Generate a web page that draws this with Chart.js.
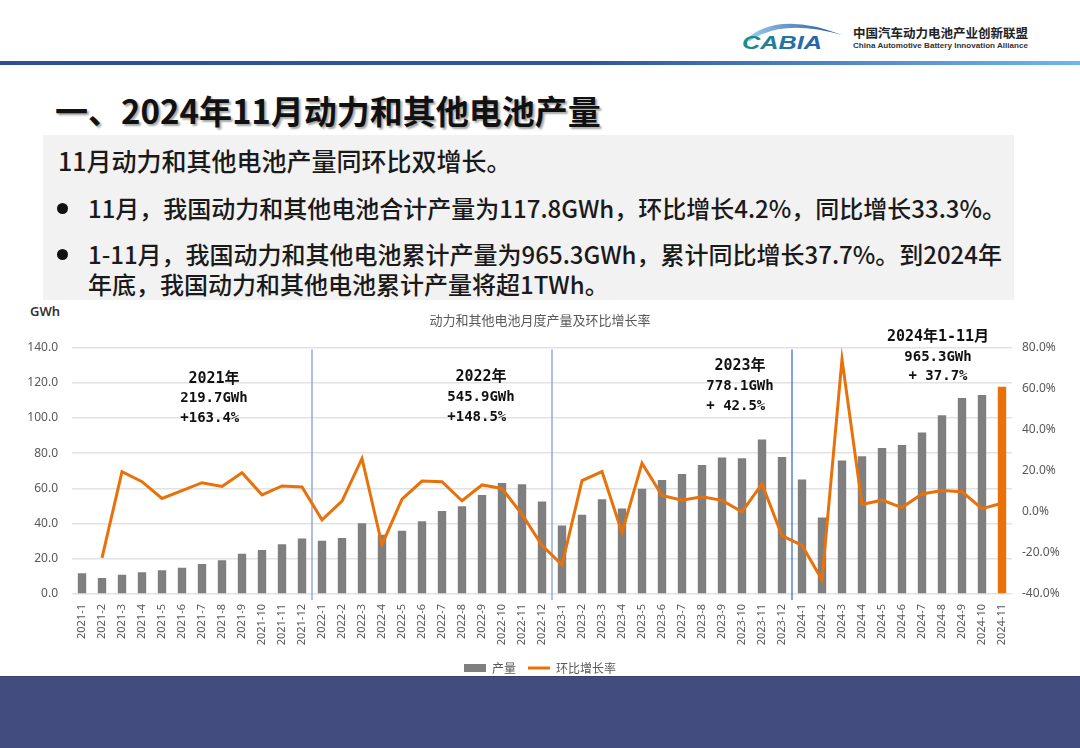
<!DOCTYPE html>
<html><head><meta charset="utf-8">
<script src="https://cdn.jsdelivr.net/npm/chart.js@4.4.0/dist/chart.umd.min.js"></script>
<style>
html,body{margin:0;padding:0;background:#fff;}
body{width:1080px;height:748px;position:relative;overflow:hidden;font-family:"Noto Sans CJK SC","Noto Sans",sans-serif;}
.abs{position:absolute;}
#rule{left:0;top:61px;width:1080px;height:4px;background:linear-gradient(90deg,#2c4f96 0%,#2f57a0 55%,#6fb5f3 100%);}
#title{left:55px;top:88px;font-size:33px;font-weight:bold;color:#111;text-shadow:2px 2px 2px rgba(0,0,0,0.35);white-space:nowrap;line-height:44px;}
#box{left:43px;top:135px;width:971px;height:165px;background:#f2f2f2;}
.t{position:absolute;font-size:24px;color:#1a1a1a;white-space:nowrap;line-height:30px;font-weight:500;}
.dot{position:absolute;width:11px;height:11px;border-radius:50%;background:#111;}
#band{left:0;top:676px;width:1080px;height:72px;background:#424c7f;border-top:1px solid #37406e;}
#gwh{left:30px;top:302px;font:600 13px "Noto Sans",sans-serif;color:#333;}
#chartWrap{left:0;top:300px;width:1080px;height:384px;}
</style></head>
<body>
<svg class="abs" style="left:730px;top:10px" width="340" height="50">
 <defs>
  <linearGradient id="arcg" x1="0" x2="1"><stop offset="0" stop-color="#9fd0f0"/><stop offset="1" stop-color="#1f4f9e"/></linearGradient>
  <linearGradient id="txtg" x1="0" x2="1"><stop offset="0" stop-color="#1a9088"/><stop offset="1" stop-color="#2a5fb0"/></linearGradient>
 </defs>
 <path d="M15 30 Q 48 0 112 25 Q 52 8 20 31 Z" fill="url(#arcg)"/>
 <text x="12" y="39" font-family="Liberation Sans" font-weight="bold" font-style="italic" font-size="19" textLength="80" lengthAdjust="spacingAndGlyphs" fill="url(#txtg)">CABIA</text>
 <text x="123" y="28" font-family="Noto Sans CJK SC" font-weight="bold" font-size="12.5" textLength="175" lengthAdjust="spacingAndGlyphs" fill="#222">中国汽车动力电池产业创新联盟</text>
 <text x="123" y="38" font-family="Liberation Sans" font-weight="bold" font-size="7.6" textLength="175" lengthAdjust="spacingAndGlyphs" fill="#333">China Automotive Battery Innovation Alliance</text>
</svg>
<div id="rule" class="abs"></div>
<div id="title" class="abs">一、2024年11月动力和其他电池产量</div>
<div id="box" class="abs"></div>
<div class="t" style="left:58px;top:145px;font-size:25px;">11月动力和其他电池产量同环比双增长。</div>
<div class="dot" style="left:57px;top:203px;"></div>
<div class="t" style="left:88px;top:193px;">11月，我国动力和其他电池合计产量为117.8GWh，环比增长4.2%，同比增长33.3%。</div>
<div class="dot" style="left:57px;top:249px;"></div>
<div class="t" style="left:88px;top:239px;">1-11月，我国动力和其他电池累计产量为965.3GWh，累计同比增长37.7%。到2024年</div>
<div class="t" style="left:88px;top:269px;">年底，我国动力和其他电池累计产量将超1TWh。</div>
<div id="gwh" class="abs">GWh</div>
<div id="chartWrap" class="abs"><canvas id="c" width="1080" height="384"></canvas></div>
<div id="band" class="abs"></div>
<script>
const months = [
 '2021-1','2021-2','2021-3','2021-4','2021-5','2021-6','2021-7','2021-8','2021-9','2021-10','2021-11','2021-12',
 '2022-1','2022-2','2022-3','2022-4','2022-5','2022-6','2022-7','2022-8','2022-9','2022-10','2022-11','2022-12',
 '2023-1','2023-2','2023-3','2023-4','2023-5','2023-6','2023-7','2023-8','2023-9','2023-10','2023-11','2023-12',
 '2024-1','2024-2','2024-3','2024-4','2024-5','2024-6','2024-7','2024-8','2024-9','2024-10','2024-11'
];
const output = [
 11.8, 9.1, 11.0, 12.4, 13.5, 14.9, 17.1, 19.2, 22.9, 25.0, 28.2, 31.6,
 30.3, 31.8, 40.2, 33.7, 36.0, 41.3, 47.2, 49.9, 56.2, 63.0, 62.3, 52.6,
 38.9, 45.0, 53.9, 48.6, 59.8, 64.8, 68.2, 73.3, 77.5, 77.1, 87.8, 77.9,
 65.1, 43.4, 75.8, 78.3, 82.9, 84.6, 91.8, 101.5, 111.4, 113.1, 117.8
];
const momRate = [
 null, -22.4, 19.6, 14.7, 6.5, 10.3, 14.2, 12.4, 19.1, 8.3, 12.6, 12.1,
 -3.9, 5.2, 26.0, -16.0, 6.2, 15.0, 14.7, 5.4, 13.1, 11.4, -1.2, -16.3,
 -25.8, 15.2, 19.6, -10.1, 23.7, 8.0, 5.7, 7.3, 5.6, 0.0, 13.6, -11.6,
 -16.3, -33.1, 74.3, 3.6, 5.7, 2.1, 8.7, 10.4, 9.8, 1.6, 4.2
];
const leftTicks = [0, 20, 40, 60, 80, 100, 120, 140];
const rightTicks = [-40, -20, 0, 20, 40, 60, 80];
const yearBreaks = ['2021-12', '2022-12', '2023-12'];
const noteYears = ['2021年', '2022年', '2023年', '2024年1-11月'];
const noteTotals = ['219.7GWh', '545.9GWh', '778.1GWh', '965.3GWh'];
const noteGrowth = ['+163.4%', '+148.5%', '+ 42.5%', '+ 37.7%'];

const GRAY = '#7f7f7f', ORANGE = '#e8710a';
Chart.defaults.font.family = '"Noto Sans","Noto Sans CJK SC",sans-serif';

const dividers = {
 id: 'dividers',
 beforeDatasetsDraw(chart, args, opts) {
  const {ctx, chartArea, scales: {x}} = chart;
  yearBreaks.forEach((lab, i) => {
   const idx = months.indexOf(lab);
   const px = (x.getPixelForValue(idx) + x.getPixelForValue(idx + 1)) / 2;
   ctx.save();
   ctx.strokeStyle = opts.colors[i];
   ctx.lineWidth = opts.widths[i];
   ctx.beginPath();
   ctx.moveTo(px, chartArea.top + 2);
   ctx.lineTo(px, chartArea.bottom + 6);
   ctx.stroke();
   ctx.restore();
  });
 }
};
const notes = {
 id: 'notes',
 afterDatasetsDraw(chart, args, opts) {
  const {ctx, scales: {x, y}} = chart;
  ctx.save();
  ctx.fillStyle = '#111';
  ctx.textBaseline = 'middle';
  opts.anchors.forEach((a, i) => {
   const cx = x.getPixelForValue(a.x);
   const cy = y.getPixelForValue(a.y);
   ctx.textAlign = 'center';
   ctx.font = 'bold 15px "DejaVu Sans Mono","Noto Sans CJK SC",monospace';
   ctx.fillText(noteYears[i], cx, cy);
   ctx.font = 'bold 14px "DejaVu Sans Mono","Noto Sans CJK SC",monospace';
   ctx.fillText(noteTotals[i], cx, cy + opts.gap);
   if (a.alignLeft) {
    const w2 = ctx.measureText(noteTotals[i]).width;
    ctx.textAlign = 'left';
    ctx.fillText(noteGrowth[i], cx - w2 / 2, cy + 2 * opts.gap);
   } else {
    ctx.fillText(noteGrowth[i], cx, cy + 2 * opts.gap);
   }
  });
  ctx.restore();
 }
};

new Chart(document.getElementById('c'), {
 type: 'bar',
 data: {
  labels: months,
  datasets: [
   {type: 'line', label: '环比增长率', data: momRate, yAxisID: 'y1', borderColor: ORANGE, backgroundColor: ORANGE,
    borderWidth: 3, pointRadius: 0, tension: 0, pointStyle: 'line'},
   {type: 'bar', label: '产量', data: output, yAxisID: 'y',
    backgroundColor: output.map((v, i) => i === output.length - 1 ? ORANGE : GRAY),
    barPercentage: 0.42, categoryPercentage: 1.0, pointStyle: 'rect'}
  ]
 },
 options: {
  responsive: false, animation: false,
  layout: {padding: 0},
  plugins: {
   title: {display: true, text: '动力和其他电池月度产量及环比增长率', color: '#595959',
    font: {size: 13, weight: 'normal', family: '"Noto Sans CJK SC",sans-serif'}, padding: {top: 12, bottom: 20}},
   legend: {position: 'bottom', reverse: true,
    labels: {usePointStyle: true, pointStyleWidth: 22, boxHeight: 8, color: '#595959',
     font: {size: 12, family: '"Noto Sans CJK SC",sans-serif'}, padding: 12}},
   tooltip: {enabled: false},
   dividers: {colors: ['#8fabdc', '#8fabdc', '#2f62d4'], widths: [1.5, 1.5, 1.2]},
   notes: {gap: 19.8, anchors: [
    {x: 6.6, y: 122.3, alignLeft: true},
    {x: 19.95, y: 123.0, alignLeft: true},
    {x: 32.9, y: 129.3, alignLeft: true},
    {x: 42.8, y: 145.9, alignLeft: false}
   ]}
  },
  scales: {
   x: {grid: {display: false, drawTicks: false}, border: {display: false},
    ticks: {color: '#595959', font: {size: 11}, minRotation: 90, maxRotation: 90, autoSkip: false, padding: 10},
    afterFit(s) { s.height = 56; }},
   y: {position: 'left', min: 0, max: 140,
    afterBuildTicks(s) { s.ticks = leftTicks.map(v => ({value: v})); },
    ticks: {callback: v => v.toFixed(1), color: '#595959', font: {size: 12}, padding: 14},
    grid: {color: '#e2e2e2', lineWidth: 1.5, drawTicks: false}, border: {display: false},
    afterFit(s) { s.width = 72; }},
   y1: {position: 'right', min: -40, max: 80,
    afterBuildTicks(s) { s.ticks = rightTicks.map(v => ({value: v})); },
    ticks: {callback: v => v.toFixed(1) + '%', color: '#595959', font: {size: 12}, padding: 10},
    grid: {drawOnChartArea: false, drawTicks: false}, border: {display: false},
    afterFit(s) { s.width = 68; }}
  }
 },
 plugins: [dividers, notes]
});
</script>
</body></html>
